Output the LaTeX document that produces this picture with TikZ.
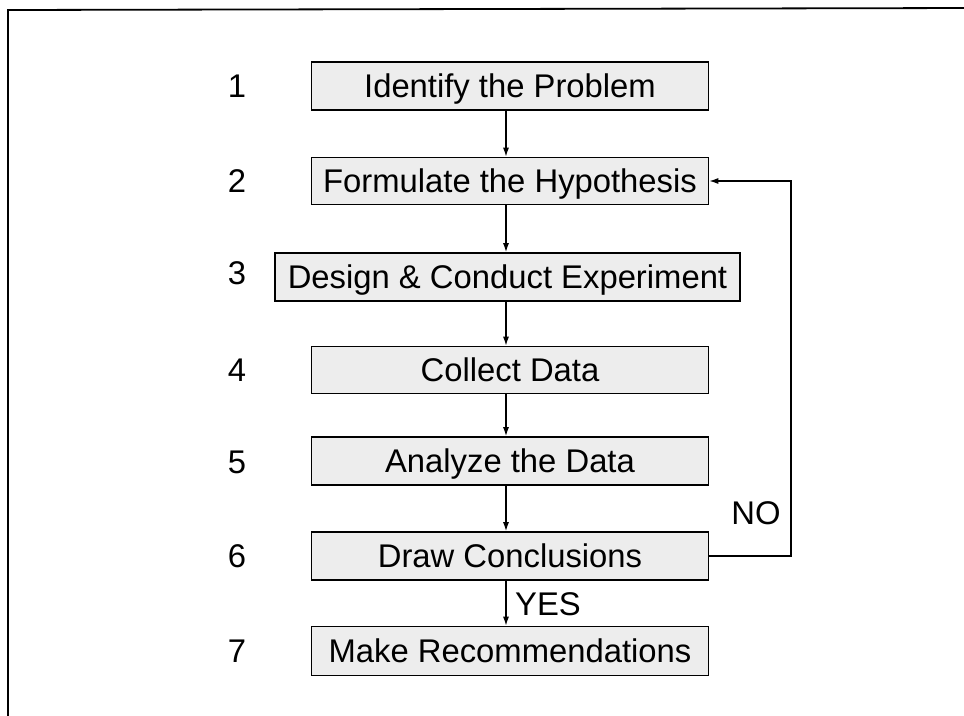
\documentclass[tikz,border=0pt]{standalone}
\usepackage{fontspec}
\setmainfont{Liberation Sans}
\usetikzlibrary{arrows.meta}
\begin{document}
\begin{tikzpicture}[x=1pt,y=-1pt,
  txt/.style={font=\fontsize{32.8}{36}\selectfont,inner sep=0pt,text height=23.5pt,text depth=0pt},
  stepbox/.style={txt,draw=black,line width=1.6pt,fill=gray!14},
  numlabel/.style={txt},
  conn/.style={draw=black,line width=1.3pt,-{Latex[length=9pt,width=6pt]}},
  lbl/.style={txt}]
\useasboundingbox (0,0) rectangle (964,715);
\draw[line width=1.8pt] (8,730) -- (8,10) -- (975,8);
% boxes
\node[stepbox,minimum width=397pt,minimum height=48pt] (s1) at (510,86) {Identify the Problem};
\node[stepbox,minimum width=397pt,minimum height=47pt] (s2) at (510,181) {Formulate the Hypothesis};
\node[stepbox,minimum width=465pt,minimum height=48pt] (s3) at (507.5,277) {Design \& Conduct Experiment};
\node[stepbox,minimum width=397pt,minimum height=47pt] (s4) at (510,370) {Collect Data};
\node[stepbox,minimum width=397pt,minimum height=48pt] (s5) at (510,461) {Analyze the Data};
\node[stepbox,minimum width=397pt,minimum height=48pt] (s6) at (510,556) {Draw Conclusions};
\node[stepbox,minimum width=397pt,minimum height=49pt] (s7) at (510,651) {Make Recommendations};
% numbers
\node[numlabel] (n1) at (237,86) {1};
\node[numlabel] (n2) at (237,181) {2};
\node[numlabel] (n3) at (237,273) {3};
\node[numlabel] (n4) at (237,370) {4};
\node[numlabel] (n5) at (237,462) {5};
\node[numlabel] (n6) at (237,556) {6};
\node[numlabel] (n7) at (237,651) {7};
% connectors
\draw[conn] (s1.south -| 506,0) -- (s2.north -| 506,0);
\draw[conn] (s2.south -| 506,0) -- (s3.north -| 506,0);
\draw[conn] (s3.south -| 506,0) -- (s4.north -| 506,0);
\draw[conn] (s4.south -| 506,0) -- (s5.north -| 506,0);
\draw[conn] (s5.south -| 506,0) -- (s6.north -| 506,0);
\draw[conn] (s6.south -| 506,0) -- (s7.north -| 506,0);
\coordinate (fb) at (791,0);
\draw[conn] (s6.east) -- (s6.east -| fb) -- (s2.east -| fb) -- (s2.east);
\node[lbl] (no) at (756,513) {NO};
\node[lbl] (yes) at (548,604) {YES};
\end{tikzpicture}
\end{document}
